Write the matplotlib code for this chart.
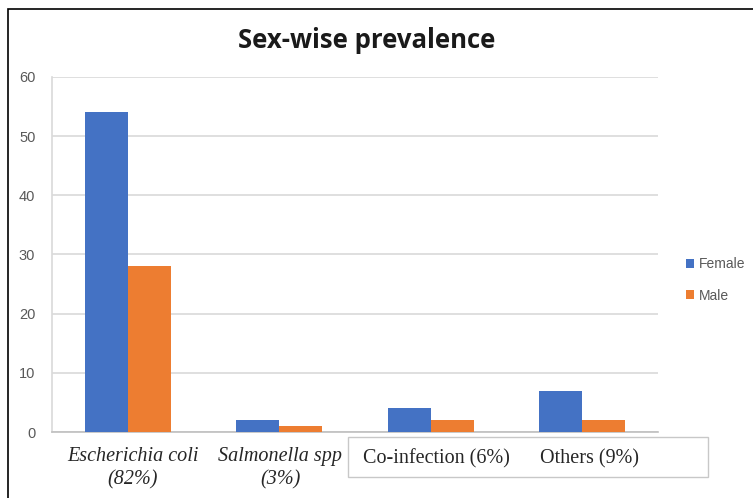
import matplotlib.pyplot as plt
import numpy as np
from matplotlib.patches import Rectangle

# ==================================================================================================================== #

categories = ["Escherichia coli\n(82%)", "Salmonella spp\n(3%)", "Co-infection (6%)", "Others (9%)"]
italic_labels = [True, True, False, False]
female = [54, 2, 4, 7]
male = [28, 1, 2, 2]
y_ticks = [0, 10, 20, 30, 40, 50, 60]

blue = "#4472c4"
orange = "#ed7d31"
grey_text = "#595959"
grid_grey = "#d9d9d9"

# ==================================================================================================================== #

fig = plt.figure(figsize=(7.53, 4.98), dpi=100)
ax = fig.add_axes([52 / 753, 1 - 432 / 498, (658 - 52) / 753, (432 - 77) / 498])

xs = np.arange(len(categories))
width = 0.284
ax.bar(xs - width / 2, female, width, color=blue, label="Female", zorder=3)
ax.bar(xs + width / 2, male, width, color=orange, label="Male", zorder=3)

ax.set_xlim(-0.5, len(categories) - 0.5)
ax.set_ylim(0, 60)
ax.set_yticks(y_ticks)
ax.tick_params(axis="y", length=0, pad=12, labelsize=10.5, labelcolor=grey_text)
ax.tick_params(axis="x", length=0, labelbottom=False)
ax.grid(axis="y", color=grid_grey, linewidth=1.2, zorder=0)
for side in ["top", "right"]:
    ax.spines[side].set_visible(False)
ax.spines["left"].set_color(grid_grey)
ax.spines["left"].set_linewidth(1.2)
ax.spines["bottom"].set_color("#bfbfbf")
ax.spines["bottom"].set_linewidth(1.2)

for label in ax.get_yticklabels():
    label.set_family("Liberation Sans")

# category labels, drawn as text in the serif face of the original
label_x = [133, 280, 436, 590]
for x, text, is_italic in zip(label_x, categories, italic_labels):
    fig.text(x / 753, 1 - (447 if is_italic else 459) / 498, text, ha="center", va="top" if is_italic else "center",
             family="Liberation Serif", style="italic" if is_italic else "normal", fontsize=14.5,
             color="#262626", linespacing=1.3)

# the boxed area under the two right categories
fig.patches.append(Rectangle((348 / 753, 1 - 477 / 498), (708 - 348) / 753, (477 - 437) / 498,
                             transform=fig.transFigure, fill=False, edgecolor="#c8c8c8", linewidth=1))

# outer frame
fig.patches.append(Rectangle((8 / 753, -0.01), (753 - 8) / 753 + 0.01, 1 - 9 / 498 + 0.01,
                             transform=fig.transFigure, fill=False, edgecolor="black", linewidth=1.2))

fig.text(367 / 753, 1 - 40 / 498, "Sex-wise prevalence", ha="center", va="center", fontsize=18.5,
         fontweight="bold", family="Open Sans", color="#1a1a1a")

fig.legend(loc="center left", bbox_to_anchor=(686 / 753, 1 - 280 / 498), frameon=False, borderpad=0,
           borderaxespad=0, handlelength=0.6, handleheight=0.6, handletextpad=0.3, labelspacing=1.25,
           prop={"family": "Liberation Sans", "size": 10}, labelcolor=grey_text)

fig.savefig("out.png", dpi=100)
